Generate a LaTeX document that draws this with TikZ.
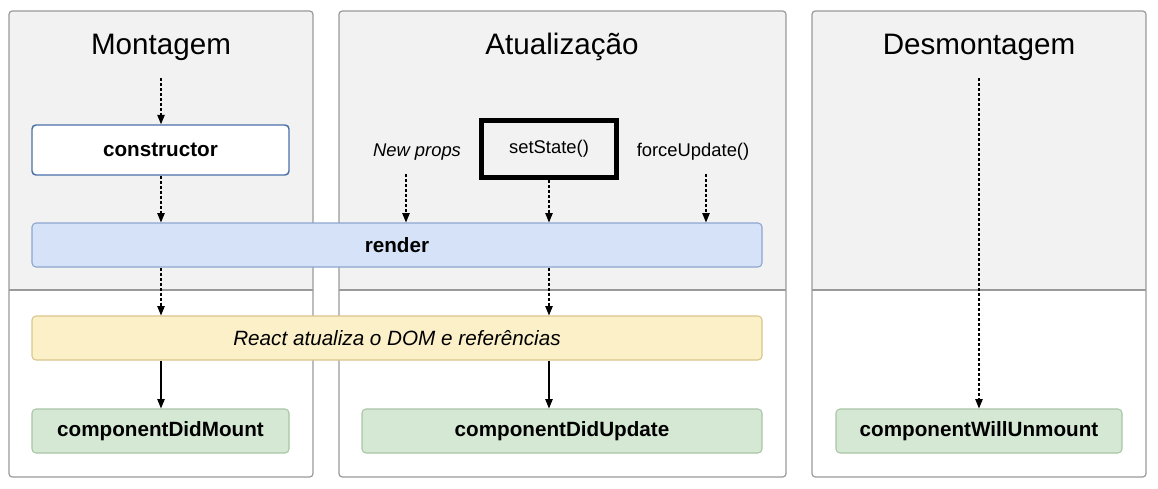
\documentclass[tikz,border=0pt]{standalone}
\usepackage{fontspec}
\setmainfont{Liberation Sans}
\usetikzlibrary{arrows.meta}
\definecolor{panelgray}{HTML}{F2F2F2}
\definecolor{panelline}{HTML}{9A9A9A}
\definecolor{ctorline}{HTML}{4A70A8}
\definecolor{renderfill}{HTML}{D5E2F8}
\definecolor{renderline}{HTML}{8EA6CF}
\definecolor{reactfill}{HTML}{FCF0C8}
\definecolor{reactline}{HTML}{D9C68C}
\definecolor{greenfill}{HTML}{D5E8D4}
\definecolor{greenline}{HTML}{A9C6A6}
\newcommand\drawpanel[2]{%
  \begin{scope}
    \clip[rounded corners=2.5pt] (#1,11) rectangle (#2,477);
    \fill[panelgray] (#1,11) rectangle (#2,290);
  \end{scope}
  \draw[panelline, line width=0.9pt, rounded corners=2.5pt] (#1,11) rectangle (#2,477);
  \draw[panelline, line width=0.9pt] (#1,290) -- (#2,290);
}
\begin{document}
\begin{tikzpicture}[x=0.75pt,y=-0.75pt,
  title/.style={font=\fontsize{22.2}{26}\selectfont, inner sep=0pt},
  boxbase/.style={rectangle, rounded corners=3pt, line width=0.8pt, inner sep=0pt,
     font=\fontsize{15.5}{18}\selectfont\bfseries},
  ctorbox/.style={boxbase, draw=ctorline, fill=white, line width=1.1pt},
  renderbox/.style={boxbase, draw=renderline, fill=renderfill},
  reactbox/.style={boxbase, draw=reactline, fill=reactfill, font=\fontsize{15.5}{18}\selectfont\itshape},
  greenbox/.style={boxbase, draw=greenline, fill=greenfill},
  trigger/.style={inner sep=0pt, font=\fontsize{13.8}{16}\selectfont},
  statebox/.style={rectangle, draw=black, line width=3.75pt, inner sep=0pt, font=\fontsize{13.8}{16}\selectfont},
  dasharrow/.style={line width=0.9pt, dash pattern=on 2.25pt off 1.5pt, -{Triangle[length=7pt,width=5.5pt]}},
  solidarrow/.style={line width=0.9pt, -{Triangle[length=7pt,width=5.5pt]}}
  ]
\useasboundingbox (0,0) rectangle (1158,489);
\fill[white] (0,0) rectangle (1158,489);

\drawpanel{9}{313}
\drawpanel{339}{786}
\drawpanel{812}{1146}

% titles
\node[title] (tmount) at (161,47) {Montagem};
\node[title] (tupdate) at (562,47) {Atualização};
\node[title] (tunmount) at (979,47) {Desmontagem};

% boxes
\node[ctorbox, minimum width=192.75pt, minimum height=37.5pt] (ctor) at (160.5,150) {constructor};
\node[renderbox, minimum width=547.5pt, minimum height=33pt] (render) at (397,245) {render};
\node[reactbox, minimum width=547.5pt, minimum height=33pt] (react) at (397,338) {React atualiza o DOM e referências};
\node[greenbox, minimum width=192.75pt, minimum height=33pt] (cdm) at (160.5,431) {componentDidMount};
\node[greenbox, minimum width=300pt, minimum height=33pt] (cdu) at (562,431) {componentDidUpdate};
\node[greenbox, minimum width=214.5pt, minimum height=33pt] (cwu) at (979,431) {componentWillUnmount};

% triggers
\node[trigger] (newprops) at (417,152) {\itshape New props};
\node[statebox, minimum width=101.25pt, minimum height=42.75pt] (setstate) at (549,149) {setState()};
\node[trigger] (force) at (693,152) {forceUpdate()};

% free arrow starts
\coordinate (m0) at (161,78);
\coordinate (np0) at (406,174);
\coordinate (fu0) at (706,174);
\coordinate (d0) at (979,78);

% Montagem column
\draw[dasharrow] (m0) -- (m0 |- ctor.north);
\draw[dasharrow] (m0 |- ctor.south) -- (m0 |- render.north);
\draw[dasharrow] (m0 |- render.south) -- (m0 |- react.north);
\draw[solidarrow] (m0 |- react.south) -- (m0 |- cdm.north);

% Atualização column
\draw[dasharrow] (np0) -- (np0 |- render.north);
\draw[dasharrow] (setstate.south) -- (setstate.south |- render.north);
\draw[dasharrow] (fu0) -- (fu0 |- render.north);
\draw[dasharrow] (setstate.south |- render.south) -- (setstate.south |- react.north);
\draw[solidarrow] (setstate.south |- react.south) -- (setstate.south |- cdu.north);

% Desmontagem column
\draw[dasharrow] (d0) -- (cwu.north);
\end{tikzpicture}
\end{document}
